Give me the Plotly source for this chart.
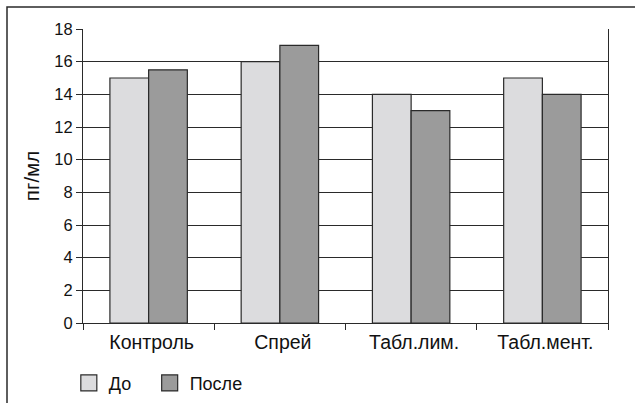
import plotly.graph_objects as go

categories = ["Контроль", "Спрей", "Табл.лим.", "Табл.мент."]
before = [15, 16, 14, 15]
after = [15.5, 17, 13, 14]
series_names = ["До", "После"]
series_colors = ["#dcdcde", "#9b9b9b"]
y_ticks = [0, 2, 4, 6, 8, 10, 12, 14, 16, 18]

FAM = "Liberation Sans, Arial, sans-serif"
INK = "#111111"
OUTLINE = "#2a2a2a"

fig = go.Figure()
for name, vals, col in zip(series_names, [before, after], series_colors):
    fig.add_trace(go.Bar(
        x=categories, y=vals, name=name, showlegend=False,
        marker=dict(color=col, line=dict(color=OUTLINE, width=1.2)),
    ))
# legend proxies, one legend box each so they can be placed like the original
for name, col, lg in zip(series_names, series_colors, ["legend", "legend2"]):
    fig.add_trace(go.Scatter(
        x=[None], y=[None], mode="markers", name=name, legend=lg,
        marker=dict(symbol="square", size=16, color=col, line=dict(color=OUTLINE, width=1.2)),
    ))

leg_common = dict(orientation="h", y=-0.205, xanchor="left", yanchor="middle",
                  font=dict(family=FAM, size=18, color=INK), bgcolor="rgba(0,0,0,0)")

fig.update_layout(
    width=635, height=403,
    margin=dict(l=83, r=27, t=29, b=80, autoexpand=False),
    paper_bgcolor="white", plot_bgcolor="white",
    font=dict(family=FAM, size=18, color=INK),
    barmode="group", bargap=0.41, bargroupgap=0,
    showlegend=True,
    legend=dict(x=-0.027, **leg_common),
    legend2=dict(x=0.127, **leg_common),
    xaxis=dict(type="category", tickson="boundaries", ticks="outside", ticklen=6,
               tickcolor=OUTLINE, showline=True, linecolor=OUTLINE, linewidth=1.2,
               showgrid=False, tickfont=dict(family=FAM, size=19.5, color=INK),
               ticklabelstandoff=1, ticklabelshift=3, fixedrange=True),
    yaxis=dict(range=[0, 18], tickvals=y_ticks, ticks="outside", ticklen=6,
               tickcolor=OUTLINE, showline=True, linecolor=OUTLINE, linewidth=1.2,
               mirror=True, showgrid=True, gridcolor=OUTLINE, gridwidth=1,
               zeroline=False, tickfont=dict(family=FAM, size=16.5, color=INK),
               title=dict(text="пг/мл", font=dict(family=FAM, size=20.5, color=INK), standoff=9),
               fixedrange=True),
    shapes=[dict(type="rect", xref="paper", yref="paper",
                 x0=(7 - 83) / 525, x1=(640 - 83) / 525,
                 y0=(323 - 410) / 294, y1=(323 - 7) / 294,
                 line=dict(color=OUTLINE, width=1.5), layer="below")],
)

fig.write_html("out.html", config={"displayModeBar": False},
               post_script="document.body.style.margin='0';")
